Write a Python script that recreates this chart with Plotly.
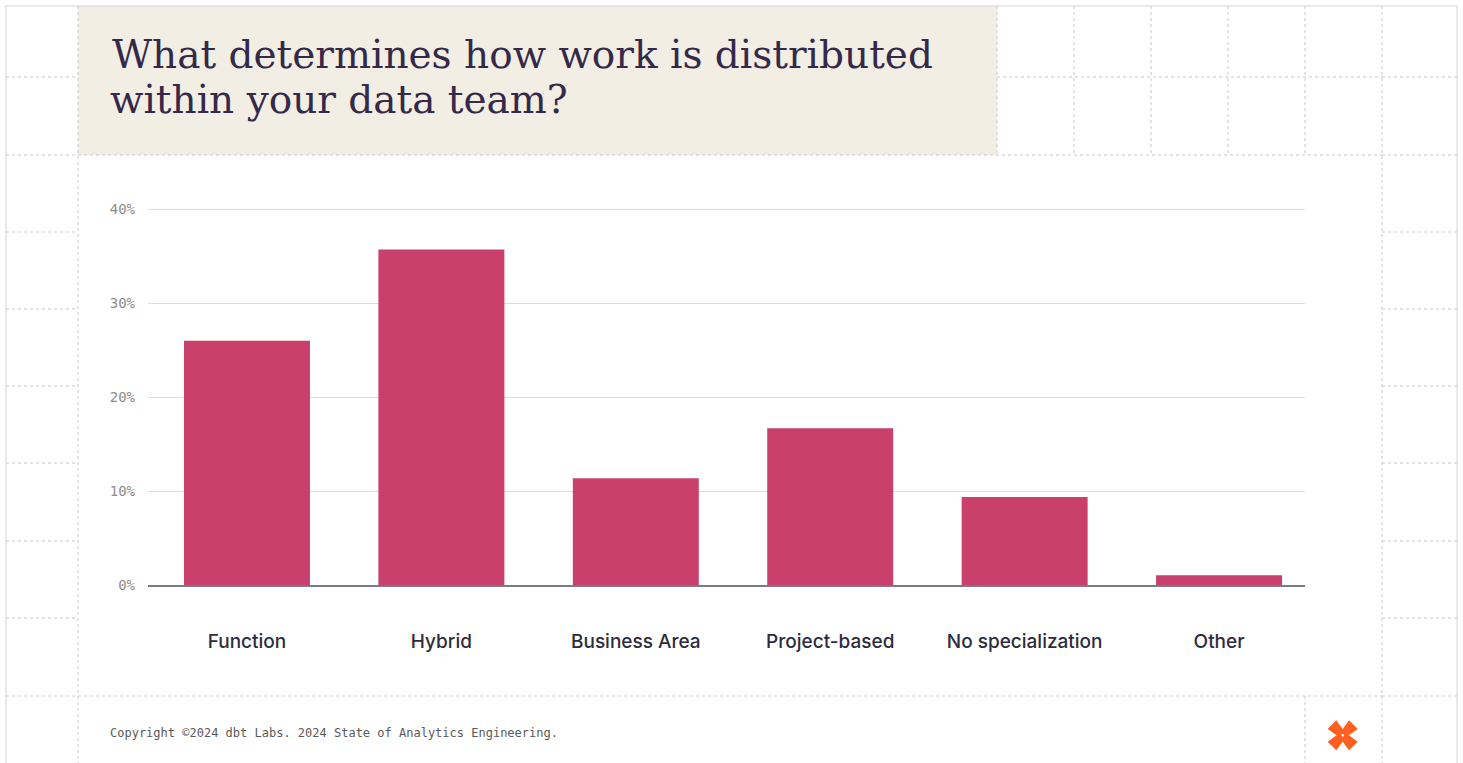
import plotly.graph_objects as go

W, H = 1463, 763

categories = ["Function", "Hybrid", "Business Area", "Project-based", "No specialization", "Other"]
values = [26.0, 35.7, 11.4, 16.7, 9.4, 1.1]
y_ticks = [0, 10, 20, 30, 40]
y_tick_labels = ["0%", "10%", "20%", "30%", "40%"]

title_lines = ["What determines how work is distributed", "within your data team?"]
footer_text = "Copyright ©2024 dbt Labs. 2024 State of Analytics Engineering."

BAR = "#C8406B"
GRID_DOT = "#c9c9c9"


def px(x):
    return x / W


def py(y):
    return 1 - y / H


shapes = []


def dline(x0, y0, x1, y1, dash="dot", color=GRID_DOT, width=1):
    shapes.append(dict(type="line", xref="paper", yref="paper",
                       x0=px(x0), y0=py(y0), x1=px(x1), y1=py(y1),
                       line=dict(color=color, width=width, dash=dash), layer="below"))


# title box
shapes.append(dict(type="rect", xref="paper", yref="paper", x0=px(78), x1=px(997),
                   y0=py(155), y1=py(6), fillcolor="#F2EEE4", line=dict(width=0), layer="below"))

# outer border
dline(6, 6, 1457, 6, dash="solid", color="#d4d4d4")
dline(6, 6, 6, 763, dash="solid", color="#d4d4d4")
dline(1457, 6, 1457, 763, dash="solid", color="#d4d4d4")

# left & right margin grid rows
rows = [77, 155, 232, 309, 386, 463, 541, 618, 696]
for r in rows:
    dline(6, r, 78, r)
    dline(1382, r, 1457, r)
# top band
dline(78, 155, 1382, 155)
dline(997, 77, 1382, 77)
for cx in [997, 1074, 1151, 1228, 1305]:
    dline(cx, 6, cx, 155)
# main verticals
dline(78, 6, 78, 763)
dline(1382, 6, 1382, 763)
# footer
dline(78, 696, 1382, 696)
dline(1305, 696, 1305, 763)

# logo (dbt-like X)
cx, cy, h, a, c = 1342.7, 735.3, 13.5, 7.0, 4.5
pts = [(-h + a, -h), (0, -c), (h - a, -h), (h, -h + a), (c, 0), (h, h - a),
       (h - a, h), (0, c), (-h + a, h), (-h, h - a), (-c, 0), (-h, -h + a)]
path = "M " + " L ".join(f"{px(cx + dx):.5f},{py(cy + dy):.5f}" for dx, dy in pts) + " Z"
shapes.append(dict(type="path", xref="paper", yref="paper", path=path,
                   fillcolor="#FF5F1F", line=dict(color="#FF5F1F", width=2), layer="above"))
shapes.append(dict(type="circle", xref="paper", yref="paper",
                   x0=px(cx - 1.3), x1=px(cx + 1.3), y0=py(cy + 1.3), y1=py(cy - 1.3),
                   fillcolor="white", line=dict(width=0), layer="above"))

fig = go.Figure(go.Bar(x=list(range(len(categories))), y=values, width=0.648,
                       marker=dict(color=BAR, line=dict(width=0)), hoverinfo="skip"))

# y axis mapping
y0px, y40px = 585.5, 209.0
ppu = (y0px - y40px) / 40
ymax = 40.6
ytop_px = y0px - ymax * ppu

annotations = [
    dict(text=title_lines[0], xref="paper", yref="paper", x=px(110), y=py(71),
         xanchor="left", yanchor="bottom", showarrow=False, yshift=-8,
         font=dict(family="DejaVu Serif", size=39, color="#35294A")),
    dict(text=title_lines[1], xref="paper", yref="paper", x=px(108), y=py(116),
         xanchor="left", yanchor="bottom", showarrow=False, yshift=-8,
         font=dict(family="DejaVu Serif", size=39, color="#35294A")),
    dict(text=footer_text, xref="paper", yref="paper", x=px(108), y=py(733),
         xanchor="left", yanchor="middle", showarrow=False,
         font=dict(family="DejaVu Sans Mono", size=12, color="#5a5a5a")),
]

fig.update_layout(
    width=W, height=H, autosize=False, margin=dict(l=0, r=0, t=0, b=0, pad=0),
    paper_bgcolor="white", plot_bgcolor="rgba(0,0,0,0)",
    showlegend=False, shapes=shapes, annotations=annotations,
    xaxis=dict(domain=[px(148), px(1305)], range=[-0.509, 5.442],
               tickmode="array", tickvals=list(range(len(categories))), ticktext=categories,
               showgrid=False, zeroline=False, showline=False, ticks="",
               ticklabelstandoff=42, automargin=False,
               tickfont=dict(family="Inter", size=19, color="#2E2B3D", weight=500)),
    yaxis=dict(domain=[py(y0px), py(ytop_px)], range=[0, ymax],
               tickmode="array", tickvals=y_ticks, ticktext=y_tick_labels,
               showgrid=True, gridcolor="#dcdcdc", gridwidth=1,
               zeroline=True, zerolinecolor="#7d7b88", zerolinewidth=2,
               showline=False, ticks="", ticklabelstandoff=12, automargin=False,
               tickfont=dict(family="DejaVu Sans Mono", size=14, color="#8c8c8c")),
)

fig.write_html("out.html",
               config={"responsive": False, "displayModeBar": False},
               post_script="document.body.style.margin='0';document.body.style.overflow='hidden';")
